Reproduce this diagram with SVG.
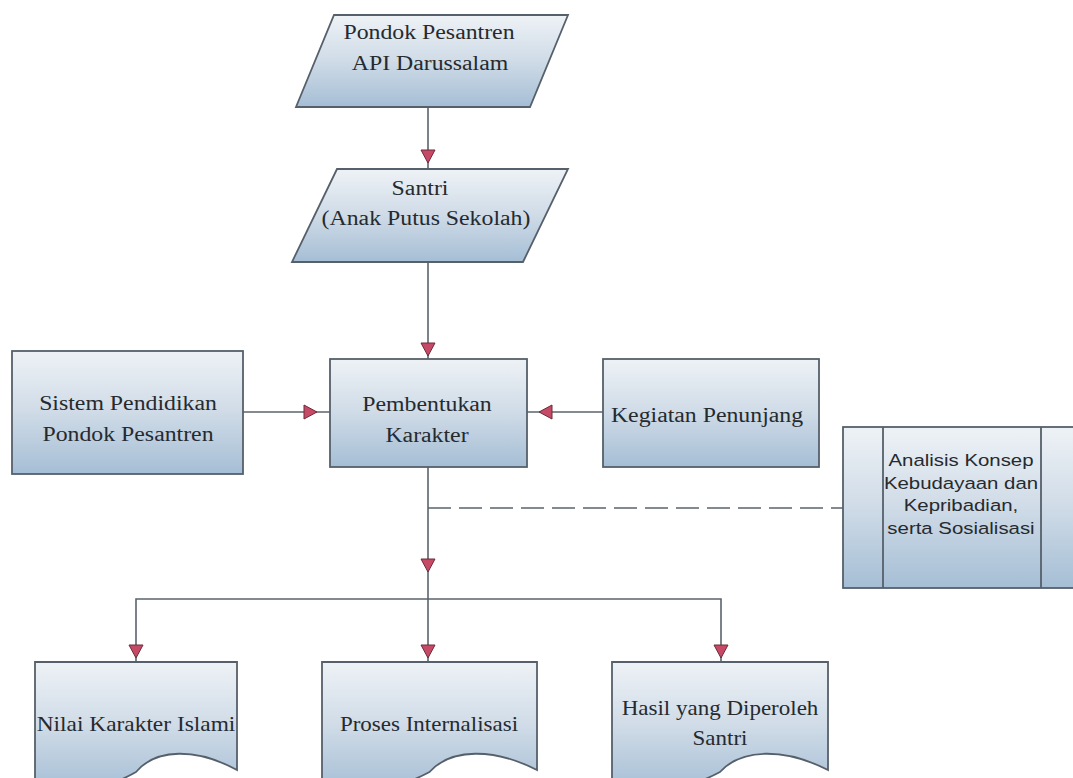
<svg xmlns="http://www.w3.org/2000/svg" width="1073" height="778" viewBox="0 0 1073 778">
<style>
.shape{fill:url(#g);stroke:#56606b;stroke-width:1.8}
.ln{fill:none;stroke:#5a636c;stroke-width:1.6}
.dash{fill:none;stroke:#5a636c;stroke-width:1.6;stroke-dasharray:23 8}
.t{font-family:"Liberation Serif","Times New Roman",serif;font-size:20px;fill:#262a2e;text-anchor:middle}
.s{font-family:"Liberation Sans",Arial,sans-serif;font-size:17px;fill:#262a2e;text-anchor:middle}
.ah{fill:#c64a66;stroke:#6e2a3a;stroke-width:1}
</style>
<defs>
<linearGradient id="g" x1="0" y1="0" x2="0" y2="1">
<stop offset="0" stop-color="#eef2f6"/>
<stop offset="0.5" stop-color="#cfdbe7"/>
<stop offset="1" stop-color="#a5bed5"/>
</linearGradient>
<path id="a" class="ah" d="M-7,-13 L7,-13 L0,0 Z"/>
</defs>
<rect width="1073" height="778" fill="#ffffff"/>
<g id="connectors">
<path class="ln" d="M428,107 V169"/>
<path class="ln" d="M428,262 V359"/>
<path class="ln" d="M243,412 H330"/>
<path class="ln" d="M603,412 H527"/>
<path class="ln" d="M428,467 V662"/>
<path class="ln" d="M136,662 V599 H721 V662"/>
<path class="dash" d="M428,508 H843"/>
<use href="#a" transform="translate(428,163)"/>
<use href="#a" transform="translate(428,356)"/>
<use href="#a" transform="translate(317,412) rotate(-90)"/>
<use href="#a" transform="translate(539,412) rotate(90)"/>
<use href="#a" transform="translate(428,572)"/>
<use href="#a" transform="translate(136,658)"/>
<use href="#a" transform="translate(428,658)"/>
<use href="#a" transform="translate(721,658)"/>
</g>
<g id="n1">
<path class="shape" d="M334,15 H568 L530,107 H296 Z"/>
<text class="t" transform="translate(429,39) scale(1.19,1)">Pondok Pesantren</text>
<text class="t" transform="translate(430,70) scale(1.19,1)">API Darussalam</text>
</g>
<g id="n2">
<path class="shape" d="M337,169 H568 L523,262 H292 Z"/>
<text class="t" transform="translate(420,195) scale(1.19,1)">Santri</text>
<text class="t" transform="translate(426,225) scale(1.19,1)">(Anak Putus Sekolah)</text>
</g>
<g id="n3">
<rect class="shape" x="12" y="351" width="231" height="123"/>
<text class="t" transform="translate(128,410) scale(1.19,1)">Sistem Pendidikan</text>
<text class="t" transform="translate(128,441) scale(1.19,1)">Pondok Pesantren</text>
</g>
<g id="n4">
<rect class="shape" x="330" y="359" width="197" height="108"/>
<text class="t" transform="translate(427,411) scale(1.19,1)">Pembentukan</text>
<text class="t" transform="translate(427,442) scale(1.19,1)">Karakter</text>
</g>
<g id="n5">
<rect class="shape" x="603" y="359" width="216" height="108"/>
<text class="t" transform="translate(707,422) scale(1.19,1)">Kegiatan Penunjang</text>
</g>
<g id="n6">
<rect class="shape" x="843" y="427" width="240" height="161"/>
<path class="ln" d="M883,427 V588 M1041,427 V588" style="stroke:#56606b;stroke-width:1.8"/>
<text class="s" transform="translate(961,466) scale(1.2,1)">Analisis Konsep</text>
<text class="s" transform="translate(961,488.5) scale(1.2,1)">Kebudayaan dan</text>
<text class="s" transform="translate(961,511) scale(1.2,1)">Kepribadian,</text>
<text class="s" transform="translate(961,533.5) scale(1.2,1)">serta Sosialisasi</text>
</g>
<g id="n7">
<path class="shape" d="M35,662 H237 V770 C196.6,748 156.2,748 136,772 C95.6,795 55.2,795 35,785 Z"/>
<text class="t" transform="translate(136,731) scale(1.17,1)">Nilai Karakter Islami</text>
</g>
<g id="n8">
<path class="shape" d="M322,662 H537 V770 C494,748 451,748 429.5,772 C386.5,795 343.5,795 322,785 Z"/>
<text class="t" transform="translate(429,731) scale(1.15,1)">Proses Internalisasi</text>
</g>
<g id="n9">
<path class="shape" d="M612,662 H828 V770 C784.8,748 741.6,748 720,772 C676.8,795 633.6,795 612,785 Z"/>
<text class="t" transform="translate(720,715) scale(1.15,1)">Hasil yang Diperoleh</text>
<text class="t" transform="translate(720,745) scale(1.15,1)">Santri</text>
</g>
</svg>
